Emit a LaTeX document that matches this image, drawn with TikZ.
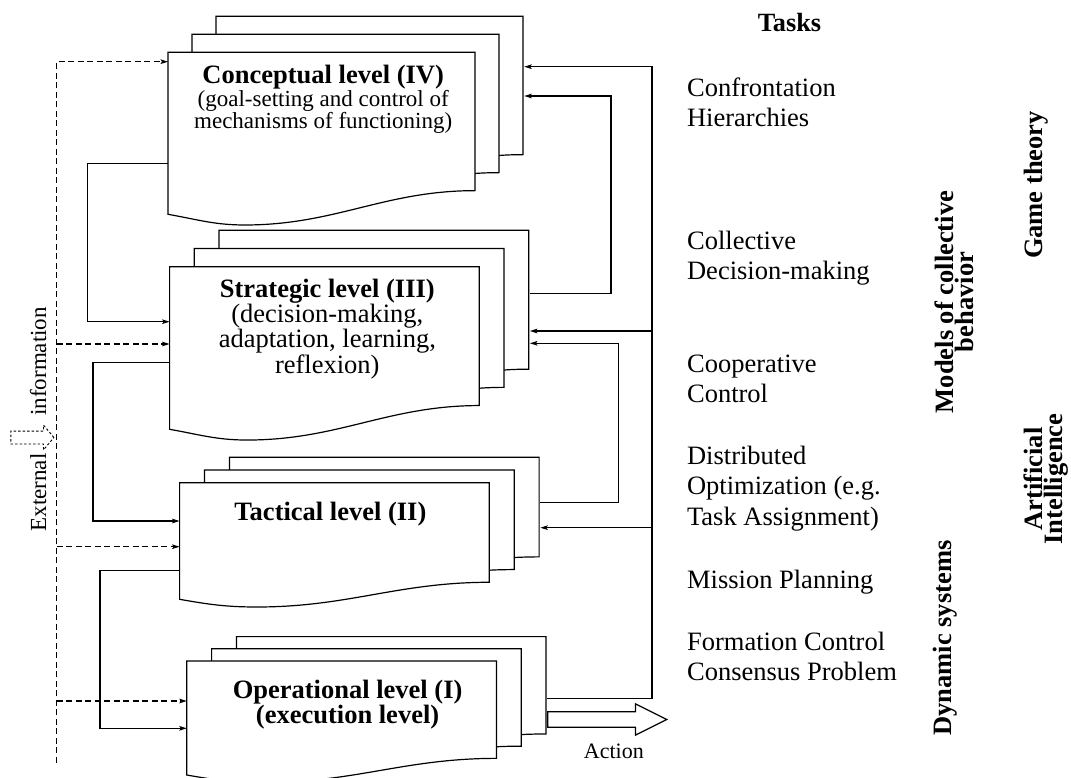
\documentclass[tikz,border=0pt]{standalone}
\usepackage{fontspec}
\setmainfont{Liberation Serif}
\usetikzlibrary{arrows.meta,positioning,calc,shapes.arrows}
\tikzset{
  lvl/.style={font=\fontsize{26.5}{30.5}\selectfont,
    line width=1.2pt, >={Stealth[length=7.5pt,width=4.6pt,inset=1.5pt]}},
  page/.style={draw=black,fill=white,line width=1.2pt},
  pagearea/.style={rectangle,inner sep=0pt,anchor=north west},
  leveltext/.style={inner sep=0pt,anchor=north,align=center},
  task/.style={inner sep=0pt,anchor=north west,align=left},
  field/.style={rotate=90,inner sep=0pt,align=center,
    font=\fontsize{26.5}{20}\selectfont\bfseries},
  flow/.style={->,line width=1.2pt},
  extinfo/.style={->,line width=1.1pt,dash pattern=on 6pt off 3.5pt},
  action/.style={single arrow,draw,fill=white,line width=1.2pt,anchor=tail,
    minimum height=119pt,inner xsep=0pt,inner ysep=7.2pt,
    single arrow head extend=7.8pt,single arrow tip angle=53},
  extarrow/.style={single arrow,draw,line width=.9pt,
    dash pattern=on 2.5pt off 2pt,anchor=tip,minimum height=43pt,
    inner xsep=0pt,inner ysep=6pt,single arrow head extend=6pt,
    single arrow tip angle=100},
}
% stack of three wavy pages: name, left, top, width, height, dx, dy
\newcommand{\levelstack}[7]{%
  \foreach \pg in {2,1,0}
    \draw[page,shift={({\pg*#6},{\pg*#7})}] (#2,#3) -- ++(#4,0)
      -- ++(0,{-0.854*#5}) to[out=180,in=0] ++({-0.75*#4},{-0.212*#5})
      to[out=180,in=-10] (#2,{#3-#5}) -- cycle;
  \node[pagearea,minimum width=#4,minimum height={0.854*#5}] (#1) at (#2,#3) {};
  \node[pagearea,minimum width=#4,minimum height={0.854*#5}] (#1b)
    at ({#2+2*#6},{#3+2*#7}) {};
}

\begin{document}
\begin{tikzpicture}[lvl,x=1pt,y=1pt]
  \useasboundingbox (0,0) rectangle (1071,-778);

  % ---------------- the four levels ----------------
  \levelstack{conc}{168}{-52.3}{307}{162}{24}{18}
  \levelstack{strat}{169.6}{-266.7}{309.7}{162.6}{24.7}{18.2}
  \levelstack{tact}{179.6}{-482.7}{309.7}{116.6}{24.9}{12.7}
  \levelstack{oper}{186.8}{-661}{309.6}{114}{24.8}{12.2}

  \node[leveltext,font=\fontsize{23}{22.7}\selectfont] (conctext) at (323.2,-64.4)
    {{\fontsize{26.5}{22.7}\selectfont\bfseries Conceptual level (IV)}\\
     (goal-setting and control of\\mechanisms of functioning)};
  \node[leveltext,font=\fontsize{26.5}{22.8}\selectfont] (strattext) at (327.3,-278.6)
    {\textbf{Strategic level (III)}\\(decision-making,\\
     adaptation, learning,\\reflexion)};
  \node[leveltext,font=\fontsize{26.5}{24}\selectfont\bfseries] (tacttext)
    at (330.4,-501.3) {Tactical level (II)};
  \node[leveltext,font=\fontsize{26.5}{24.4}\selectfont\bfseries] (opertext)
    at (347.6,-680) {Operational level (I)\\(execution level)};

  % ---------------- downward links (left) ----------------
  \draw[flow] (conc.west |- 0,-163.3) -| (87.5,-321.7) -- (strat.west |- 0,-321.7);
  \draw[flow] (strat.west |- 0,-362.7) -| (92.9,-521) -- (tact.west |- 0,-521);
  \draw[flow] (tact.west |- 0,-570.7) -| (100,-728.3) -- (oper.west |- 0,-728.3);

  % external information enters every level
  \coordinate (extend) at (56.5,-762.7);
  \draw[extinfo] (extend) |- (conc.west |- 0,-61.7);
  \draw[extinfo] (extend |- 0,-344) -- (strat.west |- 0,-344);
  \draw[extinfo] (extend |- 0,-546.7) -- (tact.west |- 0,-546.7);
  \draw[extinfo] (extend |- 0,-701) -- (oper.west |- 0,-701);
  \node[rotate=90,anchor=base,inner sep=0pt,font=\fontsize{23}{25}\selectfont]
    (ext) at (46,-492.5) {External};
  \node[rotate=90,anchor=base,inner sep=0pt,font=\fontsize{23}{25}\selectfont]
    (info) at (46,-361.4) {information};
  \node[extarrow] (extin) at (54.5,-437.5) {};

  % ---------------- feedback (right) ----------------
  \draw[flow] (stratb.east |- 0,-293.3) -| (611,-96) -- (concb.east |- 0,-96);
  \draw[flow] (tactb.east |- 0,-502.3) -| (618.5,-343.3) -- (stratb.east |- 0,-343.3);
  \coordinate (feedback) at (652,-698.3);
  \draw[flow] (operb.east |- feedback) -- (feedback) |- (concb.east |- 0,-66.7);
  \draw[flow] (feedback |- 0,-331) -- (stratb.east |- 0,-331);
  \draw[flow] (feedback |- 0,-527.7) -- (tactb.east |- 0,-527.7);

  \node[action] (act) at (operb.east |- 0,-719.5) {};
  \node[anchor=base,inner sep=0pt,font=\fontsize{22}{24}\selectfont] (actlabel)
    at (613.8,-758.3) {Action};

  % ---------------- tasks ----------------
  \node[anchor=base,inner sep=0pt,font=\fontsize{26.3}{30}\selectfont\bfseries]
    (tasks) at (789.5,-31.7) {Tasks};
  \node[task] (tconf) at (686.5,-76.9) {Confrontation\\Hierarchies};
  \node[task] (tcoll) at (686.5,-230.2) {Collective\\Decision-making};
  \node[task] (tcoop) at (686.5,-353.9) {Cooperative\\Control};
  \node[task] (tdist) at (686.5,-445.2)
    {Distributed\\Optimization (e.g.\\Task Assignment)};
  \node[task] (tmiss) at (686.5,-569.2) {Mission Planning};
  \node[task] (tform) at (686.5,-631.2) {Formation Control\\Consensus Problem};

  % ---------------- fields ----------------
  \node[field,anchor=base] (game) at (1042,-185) {Game theory};
  \node[field] (models) at (954.5,-302) {Models of collective\\behavior};
  \node[field] (ai) at (1046,-479) {Artificial\\Intelligence};
  \node[field,anchor=base] (dyn) at (951,-638) {Dynamic systems};
\end{tikzpicture}
\end{document}
